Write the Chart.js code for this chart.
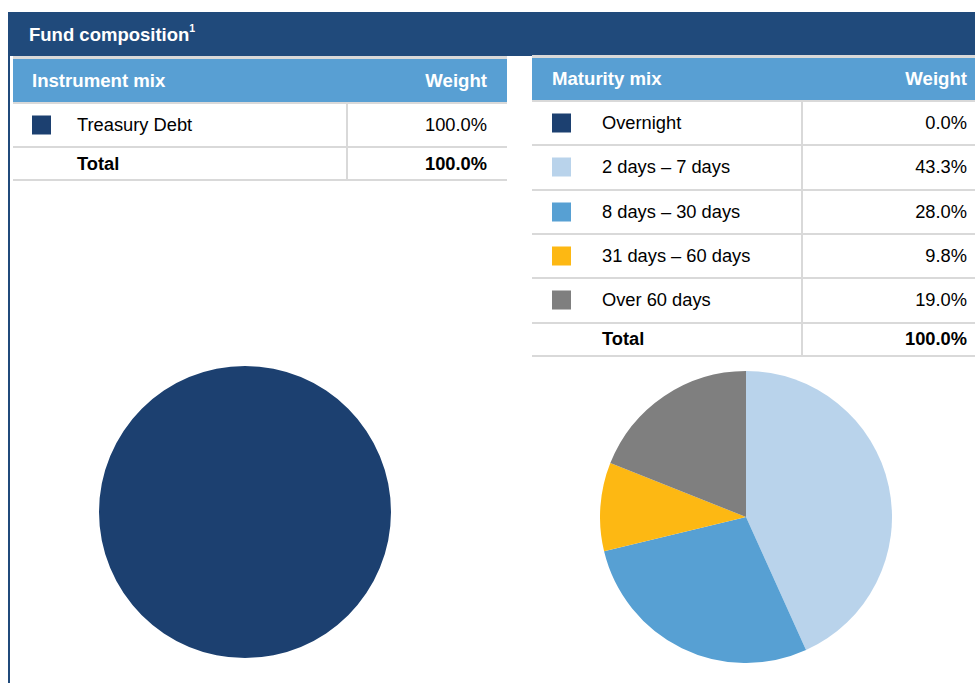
<!DOCTYPE html>
<html>
<head>
<meta charset="utf-8">
<script src="https://cdn.jsdelivr.net/npm/chart.js@4"></script>
<style>
  html, body { margin:0; padding:0; background:#fff; }
  body { width:975px; height:683px; position:relative; overflow:hidden; font-family:'Liberation Sans', Arial, sans-serif; }
  .abs { position:absolute; }
  .bar { left:8px; top:12px; width:967px; height:44px; background:#204a7b; }
  .vline { left:8px; top:12px; width:2px; height:671px; background:#204a7b; }
  .title { left:29px; top:24px; color:#fff; font-weight:bold; font-size:18.5px; white-space:nowrap; }
  .title sup { font-size:10.5px; position:relative; top:-2px; }
  .gline { position:absolute; background:#d9d9d9; }
  .hdr { position:absolute; background:#589fd3; color:#fff; font-weight:bold; font-size:18.6px; }
  .hdr span { position:absolute; top:50%; transform:translateY(-50%); white-space:nowrap; }
  .row { position:absolute; font-size:18.3px; color:#000; }
  .row span { position:absolute; top:50%; transform:translateY(-50%); white-space:nowrap; }
  .sq { position:absolute; width:19px; height:19px; top:50%; transform:translateY(-50%); }
  canvas { position:absolute; }
</style>
</head>
<body>
<div class="abs bar"></div>
<div class="abs vline"></div>
<div class="abs title">Fund composition<sup>1</sup></div>
<div id="tables"></div>
<canvas id="pieLeft" width="292" height="292" style="left:99px;top:366px;width:292px;height:292px"></canvas>
<canvas id="pieRight" width="292" height="292" style="left:600px;top:371px;width:292px;height:292px"></canvas>
<script>
// ---- data ----
const instrumentLabels = ['Treasury Debt'];
const instrumentWeights = [100.0];
const instrumentTotal = 100.0;
const maturityLabels = ['Overnight', '2 days \u2013 7 days', '8 days \u2013 30 days', '31 days \u2013 60 days', 'Over 60 days'];
const maturityWeights = [0.0, 43.3, 28.0, 9.8, 19.0];
const maturityTotal = 100.0;
// ---- styles ----
const instrumentColors = ['#1c4070'];
const maturityColors = ['#1c4070', '#b9d3eb', '#57a0d3', '#fdb813', '#7f7f7f'];

function fmt(v){ return v.toFixed(1) + '%'; }

function buildTable(cfg){
  const root = document.getElementById('tables');
  const L = cfg.left, W = cfg.width;
  function add(cls, style){
    const d = document.createElement('div');
    d.className = cls;
    Object.assign(d.style, style);
    root.appendChild(d);
    return d;
  }
  add('gline', {left:L+'px', top:cfg.top+'px', width:W+'px', height:'3px'});
  let y = cfg.top + 3;
  const h = add('hdr', {left:L+'px', top:y+'px', width:W+'px', height:cfg.hdrH+'px'});
  h.innerHTML = '<span style="left:'+cfg.textPad+'px">'+cfg.title+'</span><span style="right:'+cfg.valPad+'px">Weight</span>';
  y += cfg.hdrH;
  add('gline', {left:L+'px', top:y+'px', width:W+'px', height:'2px'});
  y += 2;
  const rowsTop = y;
  cfg.labels.forEach((lab, i) => {
    const r = add('row', {left:L+'px', top:y+'px', width:W+'px', height:cfg.rowH+'px'});
    r.innerHTML = '<div class="sq" style="left:'+cfg.sqPad+'px;background:'+cfg.colors[i]+'"></div>'+
      '<span style="left:'+cfg.labPad+'px">'+lab+'</span>'+
      '<span style="right:'+cfg.valPad+'px">'+fmt(cfg.values[i])+'</span>';
    y += cfg.rowH;
    add('gline', {left:L+'px', top:Math.round(y)+'px', width:W+'px', height:'2px'});
    y += 2;
  });
  const t = add('row', {left:L+'px', top:y+'px', width:W+'px', height:cfg.totH+'px', fontWeight:'bold'});
  t.innerHTML = '<span style="left:'+cfg.labPad+'px">Total</span><span style="right:'+cfg.valPad+'px">'+fmt(cfg.total)+'</span>';
  y += cfg.totH;
  add('gline', {left:L+'px', top:Math.round(y)+'px', width:W+'px', height:'2px'});
  add('gline', {left:(L+cfg.sepX)+'px', top:rowsTop+'px', width:'2px', height:(Math.round(y)-rowsTop)+'px'});
}

buildTable({left:13, width:494, top:56, hdrH:43, rowH:42, totH:31, title:'Instrument mix',
  labels:instrumentLabels, values:instrumentWeights, total:instrumentTotal, colors:instrumentColors,
  textPad:19, valPad:20, sqPad:19, labPad:64, sepX:333});
buildTable({left:532, width:443, top:55, hdrH:42, rowH:42.3, totH:31, title:'Maturity mix',
  labels:maturityLabels, values:maturityWeights, total:maturityTotal, colors:maturityColors,
  textPad:20, valPad:8, sqPad:20, labPad:70, sepX:269});

const common = {
  responsive:false, animation:false, events:[],
  layout:{padding:0},
  plugins:{legend:{display:false}, tooltip:{enabled:false}}
};
new Chart(document.getElementById('pieLeft'), {
  type:'pie',
  data:{labels:instrumentLabels, datasets:[{data:instrumentWeights, backgroundColor:instrumentColors, borderWidth:0}]},
  options:common
});
new Chart(document.getElementById('pieRight'), {
  type:'pie',
  data:{labels:maturityLabels, datasets:[{data:maturityWeights, backgroundColor:maturityColors, borderWidth:0}]},
  options:common
});
</script>
</body>
</html>
